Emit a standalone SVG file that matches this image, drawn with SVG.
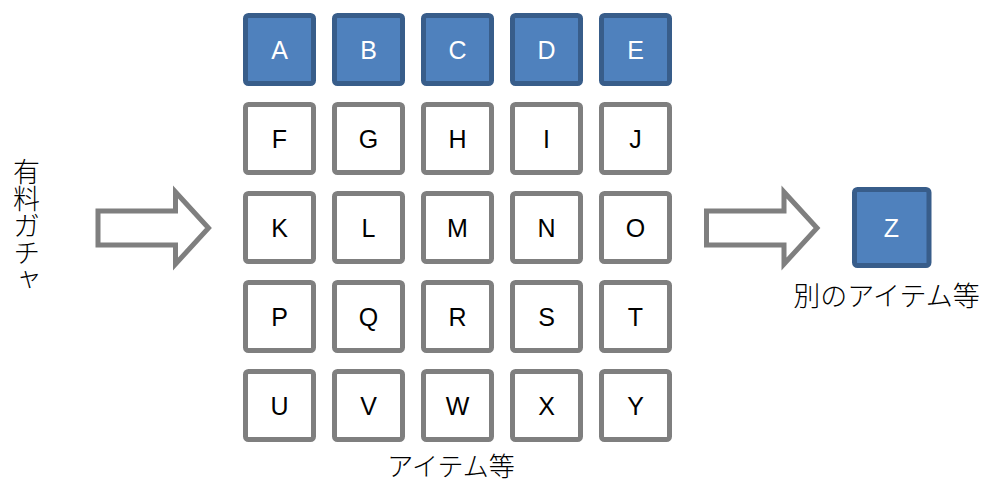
<svg xmlns="http://www.w3.org/2000/svg" width="990" height="483" viewBox="0 0 990 483">
<style>
.bx{fill:#FFFFFF;stroke:#7F7F7F;stroke-width:5}
.bl{fill:#4F81BD;stroke:#385D8A;stroke-width:5}
.lt{font-family:"Liberation Sans",Arial,sans-serif;font-size:25px;text-anchor:middle;fill:#000}
.lw{font-family:"Liberation Sans",Arial,sans-serif;font-size:25px;text-anchor:middle;fill:#FFFFFF}
.jp{font-family:"Liberation Serif","Noto Sans CJK JP",serif;font-size:27px;font-weight:300;fill:#000}
.ar{fill:#FFFFFF;stroke:#7F7F7F;stroke-width:5;stroke-miterlimit:10}
</style>
<rect width="990" height="483" fill="#FFFFFF"/>
<g id="connectors">
<path class="ar" d="M98,211 H175.5 V192 L208.5,228 L175.5,264 V245 H98 Z"/>
<path class="ar" d="M706.5,211 H784 V192 L817,228 L784,264 V245 H706.5 Z"/>
</g>
<g id="label-gacha"><text class="jp" x="24" y="158" style="writing-mode:vertical-rl">有料ガチャ</text></g>
<g id="A"><rect class="bl" x="245.5" y="15.5" width="68" height="68" rx="3"/><text class="lw" x="279.5" y="58.5">A</text></g>
<g id="B"><rect class="bl" x="334.5" y="15.5" width="68" height="68" rx="3"/><text class="lw" x="368.5" y="58.5">B</text></g>
<g id="C"><rect class="bl" x="423.5" y="15.5" width="68" height="68" rx="3"/><text class="lw" x="457.5" y="58.5">C</text></g>
<g id="D"><rect class="bl" x="512.5" y="15.5" width="68" height="68" rx="3"/><text class="lw" x="546.5" y="58.5">D</text></g>
<g id="E"><rect class="bl" x="601.5" y="15.5" width="68" height="68" rx="3"/><text class="lw" x="635.5" y="58.5">E</text></g>
<g id="F"><rect class="bx" x="245.5" y="104.5" width="68" height="68" rx="3"/><text class="lt" x="279.5" y="147.5">F</text></g>
<g id="G"><rect class="bx" x="334.5" y="104.5" width="68" height="68" rx="3"/><text class="lt" x="368.5" y="147.5">G</text></g>
<g id="H"><rect class="bx" x="423.5" y="104.5" width="68" height="68" rx="3"/><text class="lt" x="457.5" y="147.5">H</text></g>
<g id="I"><rect class="bx" x="512.5" y="104.5" width="68" height="68" rx="3"/><text class="lt" x="546.5" y="147.5">I</text></g>
<g id="J"><rect class="bx" x="601.5" y="104.5" width="68" height="68" rx="3"/><text class="lt" x="635.5" y="147.5">J</text></g>
<g id="K"><rect class="bx" x="245.5" y="193.5" width="68" height="68" rx="3"/><text class="lt" x="279.5" y="236.5">K</text></g>
<g id="L"><rect class="bx" x="334.5" y="193.5" width="68" height="68" rx="3"/><text class="lt" x="368.5" y="236.5">L</text></g>
<g id="M"><rect class="bx" x="423.5" y="193.5" width="68" height="68" rx="3"/><text class="lt" x="457.5" y="236.5">M</text></g>
<g id="N"><rect class="bx" x="512.5" y="193.5" width="68" height="68" rx="3"/><text class="lt" x="546.5" y="236.5">N</text></g>
<g id="O"><rect class="bx" x="601.5" y="193.5" width="68" height="68" rx="3"/><text class="lt" x="635.5" y="236.5">O</text></g>
<g id="P"><rect class="bx" x="245.5" y="282.5" width="68" height="68" rx="3"/><text class="lt" x="279.5" y="325.5">P</text></g>
<g id="Q"><rect class="bx" x="334.5" y="282.5" width="68" height="68" rx="3"/><text class="lt" x="368.5" y="325.5">Q</text></g>
<g id="R"><rect class="bx" x="423.5" y="282.5" width="68" height="68" rx="3"/><text class="lt" x="457.5" y="325.5">R</text></g>
<g id="S"><rect class="bx" x="512.5" y="282.5" width="68" height="68" rx="3"/><text class="lt" x="546.5" y="325.5">S</text></g>
<g id="T"><rect class="bx" x="601.5" y="282.5" width="68" height="68" rx="3"/><text class="lt" x="635.5" y="325.5">T</text></g>
<g id="U"><rect class="bx" x="245.5" y="371.5" width="68" height="68" rx="3"/><text class="lt" x="279.5" y="414.5">U</text></g>
<g id="V"><rect class="bx" x="334.5" y="371.5" width="68" height="68" rx="3"/><text class="lt" x="368.5" y="414.5">V</text></g>
<g id="W"><rect class="bx" x="423.5" y="371.5" width="68" height="68" rx="3"/><text class="lt" x="457.5" y="414.5">W</text></g>
<g id="X"><rect class="bx" x="512.5" y="371.5" width="68" height="68" rx="3"/><text class="lt" x="546.5" y="414.5">X</text></g>
<g id="Y"><rect class="bx" x="601.5" y="371.5" width="68" height="68" rx="3"/><text class="lt" x="635.5" y="414.5">Y</text></g>
<g id="label-items"><text class="jp" x="451" y="476" text-anchor="middle" style="font-size:26px">アイテム等</text></g>
<g id="Z"><rect class="bl" x="854.5" y="189.5" width="74.5" height="76" rx="3"/><text class="lw" x="891.5" y="236.5">Z</text></g>
<g id="label-other"><text class="jp" x="886.5" y="306" text-anchor="middle">別のアイテム等</text></g>
</svg>
